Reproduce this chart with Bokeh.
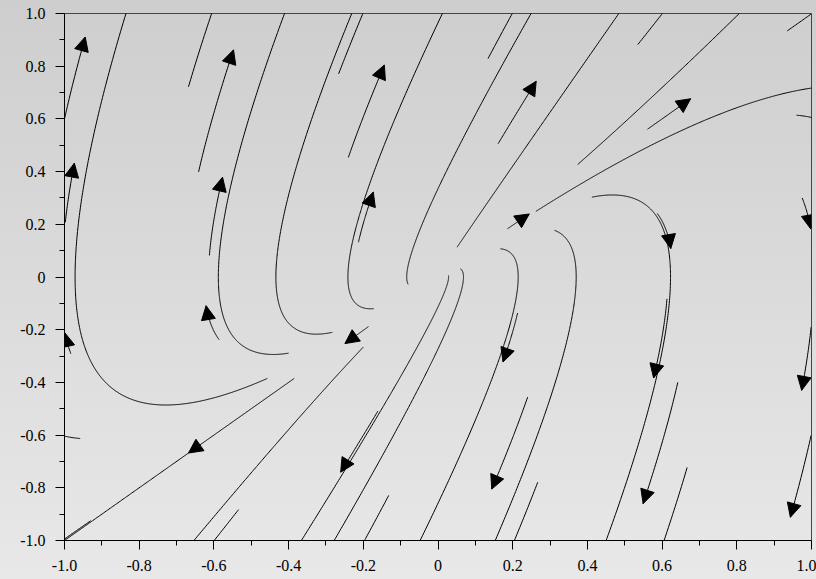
import numpy as np
from bokeh.plotting import figure
from bokeh.models import ColumnDataSource, Arrow, NormalHead, FixedTicker, GlobalInlineStyleSheet
from bokeh.embed import file_html
from bokeh.resources import INLINE

# vector field: dx/dt = y ; dy/dt = -2x + 3y
field_matrix = [[0.0, 1.0], [-2.0, 3.0]]

# streamline seeds (start point), integration time (None = until the edge), arrowhead at end
seed_x = [-1.000, -0.457, -0.668, -0.641, -0.400, -0.283, -0.998, -0.612, -0.586, -0.983,
          -0.385, -0.930, -0.200, -0.534, 0.028, 0.060, -0.161, -0.132, 0.167, 0.213,
          0.240, 0.267, 0.312, 0.412, 0.587, 0.613, 0.642, 0.667, 0.999, 0.999,
          0.975, 0.960, -0.958, -0.266, -0.240, -0.172, -0.213, -0.080, 0.134, 0.161,
          0.051, 0.535, 0.374, 0.561, 0.935, 0.186, 0.262, -0.186]
seed_y = [0.600, -0.385, 0.722, 0.399, -0.289, -0.210, 0.207, 0.082, -0.238, -0.291,
          -0.385, -0.925, -0.266, -0.883, 0.006, 0.031, -0.509, -0.829, 0.107, -0.137,
          -0.456, -0.779, 0.177, 0.303, 0.241, -0.083, -0.400, -0.723, -0.190, -0.601,
          0.300, 0.614, -0.613, 0.771, 0.454, -0.120, 0.132, -0.028, 0.829, 0.506,
          0.113, 0.882, 0.427, 0.561, 0.934, 0.183, 0.249, -0.188]
seed_T = [0.074, None, None, 0.152, None, None, 0.077, 0.160, 0.193, 0.065,
          None, None, None, None, None, None, 0.161, None, None, 0.175,
          0.155, None, None, None, 0.199, 0.161, 0.151, None, 0.083, 0.074,
          0.095, None, None, None, 0.156, None, 0.181, None, None, 0.165,
          None, None, None, 0.187, None, 0.278, None, 0.289]
seed_arrow = [True, False, False, True, False, False, True, True, True, True,
              False, False, False, False, False, False, True, False, False, True,
              True, False, False, False, True, True, True, False, True, True,
              True, False, False, False, True, False, True, False, False, True,
              False, False, False, True, False, True, False, True]

# arrowheads placed part-way along a streamline
mid_arrow_x = [-0.668]
mid_arrow_y = [-0.668]

x_ticks = [-1.0, -0.8, -0.6, -0.4, -0.2, 0.0, 0.2, 0.4, 0.6, 0.8, 1.0]
x_labels = ["-1.0", "-0.8", "-0.6", "-0.4", "-0.2", "0", "0.2", "0.4", "0.6", "0.8", "1.0"]
y_ticks = [-1.0, -0.8, -0.6, -0.4, -0.2, 0.0, 0.2, 0.4, 0.6, 0.8, 1.0]
y_labels = ["-1.0", "-0.8", "-0.6", "-0.4", "-0.2", "0", "0.2", "0.4", "0.6", "0.8", "1.0"]
minor_ticks = [-0.9, -0.7, -0.5, -0.3, -0.1, 0.1, 0.3, 0.5, 0.7, 0.9]

M = np.array(field_matrix)


def vel(p):
    return M @ p


def trace(x0, y0, T):
    dt = 0.004
    p = np.array([x0, y0], dtype=float)
    xs, ys = [p[0]], [p[1]]
    tmax = T if T is not None else 5.0
    t = 0.0
    while t < tmax - 1e-12:
        h = min(dt, tmax - t)
        k1 = vel(p)
        k2 = vel(p + 0.5 * h * k1)
        k3 = vel(p + 0.5 * h * k2)
        k4 = vel(p + h * k3)
        p = p + h / 6.0 * (k1 + 2 * k2 + 2 * k3 + k4)
        t += h
        xs.append(p[0])
        ys.append(p[1])
        if abs(p[0]) > 1.0 or abs(p[1]) > 1.0:
            break
    return xs, ys


lines_x, lines_y = [], []
ax0, ay0, ax1, ay1 = [], [], [], []


def add_arrow(tx, ty):
    d = vel(np.array([tx, ty]))
    d = d / np.hypot(d[0], d[1])
    ax0.append(tx - 0.01 * d[0])
    ay0.append(ty - 0.01 * d[1])
    ax1.append(tx)
    ay1.append(ty)


for sx, sy, st, sa in zip(seed_x, seed_y, seed_T, seed_arrow):
    xs, ys = trace(sx, sy, st)
    lines_x.append(xs)
    lines_y.append(ys)
    if sa:
        add_arrow(xs[-1], ys[-1])

for mx, my in zip(mid_arrow_x, mid_arrow_y):
    add_arrow(mx, my)

css = ("html{height:100%;background:linear-gradient(to bottom,#cecece 0%,#e8e8e8 100%) no-repeat;}"
       "body{background:transparent;}")

p = figure(width=816, height=579, x_range=(-1, 1), y_range=(-1, 1),
           output_backend="svg", toolbar_location=None,
           min_border_left=64, min_border_right=5, min_border_top=13, min_border_bottom=39,
           stylesheets=[GlobalInlineStyleSheet(css=css)])
p.background_fill_color = None
p.border_fill_color = None
p.outline_line_color = "#454545"
p.outline_line_width = 1
p.grid.visible = False

p.multi_line(xs=lines_x, ys=lines_y, line_color="black", line_width=1)

arrow_src = ColumnDataSource(dict(x0=ax0, y0=ay0, x1=ax1, y1=ay1))
p.add_layout(Arrow(source=arrow_src, x_start="x0", y_start="y0", x_end="x1", y_end="y1",
                   line_alpha=0,
                   end=NormalHead(size=14, fill_color="black", line_color="black", line_width=1)))

for axis, ticks, labels in ((p.xaxis[0], x_ticks, x_labels), (p.yaxis[0], y_ticks, y_labels)):
    axis.ticker = FixedTicker(ticks=ticks, minor_ticks=minor_ticks)
    axis.major_label_overrides = {t: l for t, l in zip(ticks, labels)}
    axis.axis_line_color = "black"
    axis.major_tick_line_color = "black"
    axis.minor_tick_line_color = "black"
    axis.major_tick_in = 0
    axis.major_tick_out = 9
    axis.minor_tick_in = 0
    axis.minor_tick_out = 5
    axis.major_label_text_font = "Liberation Serif"
    axis.major_label_text_font_size = "16px"
    axis.major_label_text_color = "black"

p.xaxis.major_label_standoff = 10
p.yaxis.major_label_standoff = 10

open("out.html", "w").write(file_html(p, INLINE))
